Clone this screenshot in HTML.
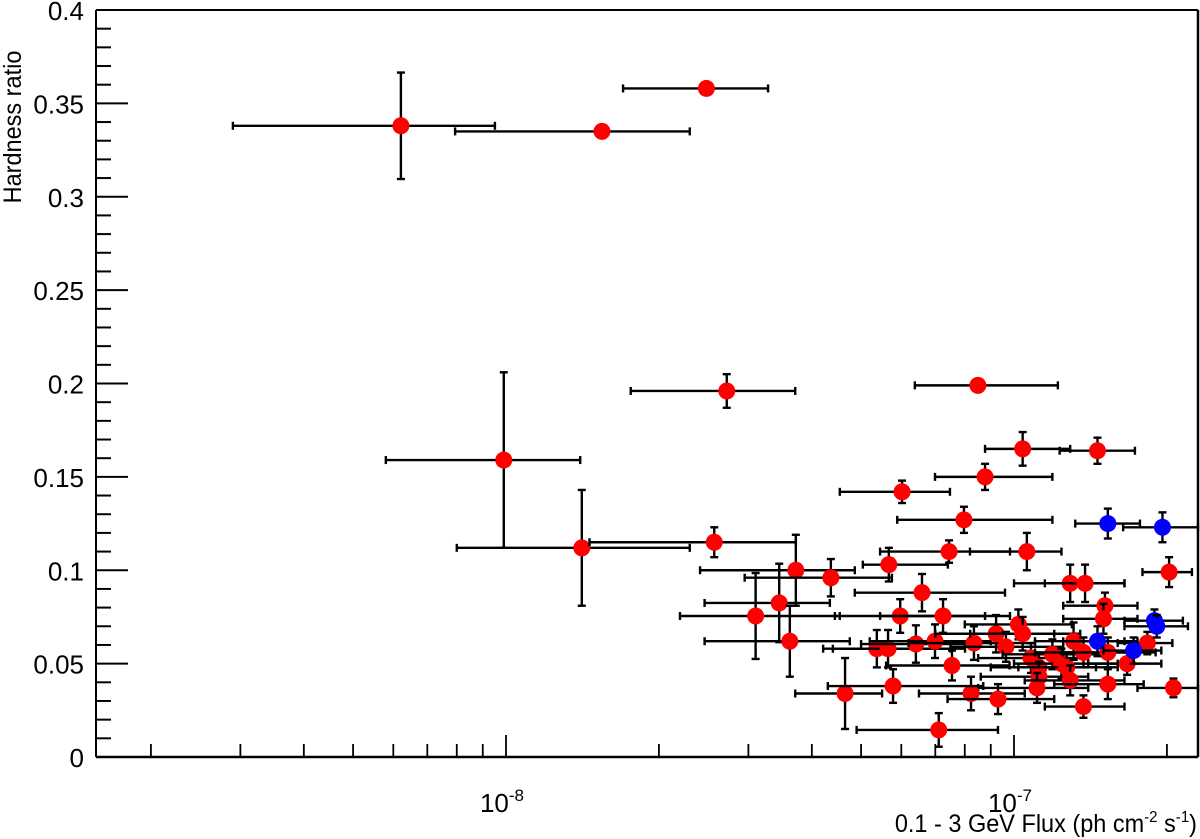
<!DOCTYPE html>
<html><head><meta charset="utf-8"><style>
html,body{margin:0;padding:0;background:#fff;}
svg{display:block;font-family:"Liberation Sans",sans-serif;}
</style></head><body>
<svg id="chart" width="1200" height="839" viewBox="0 0 1200 839" xmlns="http://www.w3.org/2000/svg">
<g id="axes"></g>
<g id="marks"></g>
<text transform="translate(21,127) rotate(-90) scale(0.94,1)" text-anchor="middle" font-size="25">Hardness ratio</text>
<text transform="translate(1197,832) scale(0.94,1)" text-anchor="end" font-size="25">0.1 - 3 GeV Flux (ph cm<tspan dy="-10" font-size="16">-2</tspan><tspan dy="10"> s</tspan><tspan dy="-10" font-size="16">-1</tspan><tspan dy="10">)</tspan></text>
</svg>
<script>
// flux in units of 1e-8 ph cm^-2 s^-1
const flux   = [0.621,1.545,2.48,2.72,8.49,0.99,1.41,2.57,10.4,14.6,6.02,8.77,7.97,10.6,7.45,15.3,19.6,20.2,3.72,4.36,5.67,6.59,3.45,3.10,3.62,4.65,5.97,7.25,5.37,5.65,6.41,6.99,8.34,9.22,10.2,10.4,9.64,7.55,10.8,11.2,11.2,11.1,11.9,12.4,12.7,12.9,13.1,13.7,14.6,15.3,17.2,16.7,18.3,18.9,19.1,12.9,13.8,15.1,15.0,15.3,20.6,13.7,8.23,9.30,7.11,5.78];
const fluxLo = [0.290,0.794,1.70,1.76,6.38,0.58,0.80,1.46,8.77,12.3,4.54,6.99,5.89,8.19,5.45,13.2,16.4,17.9,2.41,2.95,5.04,4.86,2.46,2.20,2.46,3.71,4.44,5.45,4.21,4.40,5.00,5.20,6.20,7.00,8.0,8.2,7.5,5.6,8.5,9.0,8.6,8.5,9.5,10.0,10.2,10.5,11.0,11.0,12.5,12.5,15.0,14.0,16.0,16.5,16.5,10.0,11.5,12.5,12.5,12.0,17.5,11.5,6.5,7.4,4.9,4.3];
const fluxHi = [0.951,2.30,3.28,3.71,12.2,1.40,2.30,3.72,12.9,17.3,7.48,11.9,11.9,12.4,9.82,17.7,23.2,22.4,4.86,5.75,7.41,9.60,4.34,4.54,4.75,5.50,8.77,9.82,8.01,7.50,8.50,9.00,11.0,12.0,13.0,13.5,12.5,9.8,14.0,14.5,14.0,14.0,15.0,16.0,16.0,16.5,16.5,17.0,17.5,19.0,19.5,19.5,20.5,21.5,22.0,16.5,16.5,17.5,17.5,18.0,24.0,16.5,10.5,12.0,9.3,8.7];
const hr     = [0.338,0.335,0.358,0.196,0.199,0.159,0.112,0.115,0.165,0.164,0.142,0.150,0.127,0.110,0.110,0.125,0.123,0.099,0.100,0.096,0.103,0.088,0.0825,0.0755,0.062,0.034,0.0755,0.0755,0.058,0.058,0.0605,0.062,0.061,0.066,0.071,0.066,0.059,0.049,0.053,0.048,0.043,0.037,0.055,0.050,0.048,0.041,0.062,0.056,0.062,0.056,0.057,0.050,0.061,0.073,0.070,0.093,0.093,0.081,0.074,0.039,0.037,0.027,0.034,0.031,0.0145,0.038];
const hrErr  = [0.0285,0.002,0.002,0.009,0.002,0.047,0.031,0.008,0.009,0.007,0.006,0.007,0.007,0.010,0.006,0.008,0.008,0.008,0.019,0.010,0.009,0.010,0.021,0.023,0.019,0.019,0.009,0.009,0.010,0.010,0.010,0.009,0.009,0.010,0.008,0.009,0.008,0.008,0.008,0.008,0.008,0.008,0.008,0.008,0.008,0.008,0.010,0.008,0.008,0.008,0.007,0.006,0.006,0.006,0.006,0.010,0.010,0.007,0.008,0.008,0.005,0.006,0.009,0.008,0.009,0.009];
const group  = [0,0,0,0,0,0,0,0,0,0,0,0,0,0,0,1,1,0,0,0,0,0,0,0,0,0,0,0,0,0,0,0,0,0,0,0,0,0,0,0,0,0,0,0,0,0,0,0,1,0,1,0,0,1,1,0,0,0,0,0,0,0,0,0,0,0];
const yTicks = [0,0.05,0.1,0.15,0.2,0.25,0.3,0.35,0.4];
const yTickLabels = ["0","0.05","0.1","0.15","0.2","0.25","0.3","0.35","0.4"];
const xMajor = [1,10];
const xMajorLabels = ["-8","-7"];

const NS="http://www.w3.org/2000/svg";
const X0=96, X1=1198, Y0=757, Y1=10;
function xPx(v){return 506+508*Math.log10(v);}
function yPx(h){return 757-1867.5*h;}
function mk(tag,attrs,parent){const e=document.createElementNS(NS,tag);for(const k in attrs)e.setAttribute(k,attrs[k]);parent.appendChild(e);return e;}
const axes=document.getElementById('axes'), marks=document.getElementById('marks');
let a=mk('line',{x1:X0,y1:Y0,x2:X1,y2:Y0,stroke:'#000','stroke-width':2.5},axes);


a=mk('line',{x1:X0,y1:Y0,x2:X0,y2:Y1,stroke:'#000','stroke-width':2},axes);


a=mk('line',{x1:X0,y1:Y1,x2:X1,y2:Y1,stroke:'#000','stroke-width':2},axes);


a=mk('line',{x1:X1,y1:Y1,x2:X1,y2:Y0,stroke:'#000','stroke-width':2.5},axes);


for(let i=0;i<yTicks.length;i++){
  const y=yPx(yTicks[i]);
  const t=mk('line',{x1:X0,y1:y,x2:X0+32,y2:y,stroke:'#000','stroke-width':2},axes);
  
  
  const l=mk('text',{x:84,y:y+10,'text-anchor':'end','font-size':26},axes);
  l.textContent=yTickLabels[i];
  
  
  if(i<yTicks.length-1){for(let k=1;k<5;k++){const ym=yPx(yTicks[i]+k*0.01);
    const m=mk('line',{x1:X0,y1:ym,x2:X0+15,y2:ym,stroke:'#000','stroke-width':2},axes);
    
    }}
}
for(let d=-1;d<=1;d++){for(let k=1;k<=9;k++){const v=k*Math.pow(10,d);const x=xPx(v);
  if(x<X0+1||x>X1-1)continue;
  const m=mk('line',{x1:x,y1:Y0,x2:x,y2:Y0-(k===1?22:13),stroke:'#000','stroke-width':1.8},axes);
  
  }}
for(let i=0;i<xMajor.length;i++){const x=xPx(xMajor[i]);
  const l=mk('text',{x:x-4,y:812,'text-anchor':'middle','font-size':26},axes);
  l.textContent='10';
  const s=mk('tspan',{dy:-11,'font-size':17},l);s.textContent=xMajorLabels[i];
  
  }
const order=[];for(let i=0;i<flux.length;i++)if(group[i]===0)order.push(i);for(let i=0;i<flux.length;i++)if(group[i]===1)order.push(i);
for(const i of order){
  const g=mk('g',{},marks);
  
  
  const cx=xPx(flux[i]),cy=yPx(hr[i]),xl=xPx(fluxLo[i]),xh=Math.min(xPx(fluxHi[i]),X1),yl=yPx(hr[i]-hrErr[i]),yh=yPx(hr[i]+hrErr[i]);
  const st={stroke:'#000','stroke-width':2.4};
  mk('line',Object.assign({x1:xl,y1:cy,x2:xh,y2:cy},st),g);
  mk('line',Object.assign({x1:xl,y1:cy-4,x2:xl,y2:cy+4},st),g);
  mk('line',Object.assign({x1:xh,y1:cy-4,x2:xh,y2:cy+4},st),g);
  mk('line',Object.assign({x1:cx,y1:yl,x2:cx,y2:yh},st),g);
  if(hrErr[i]>0.004){mk('line',Object.assign({x1:cx-4,y1:yl,x2:cx+4,y2:yl},st),g);
  mk('line',Object.assign({x1:cx-4,y1:yh,x2:cx+4,y2:yh},st),g);}
  mk('circle',{cx:cx,cy:cy,r:8.5,fill:group[i]?'#0000ff':'#ff0000'},g);
}
</script>
</body></html>
